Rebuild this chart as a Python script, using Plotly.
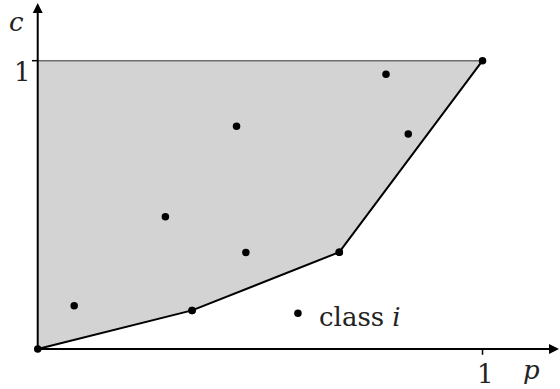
import plotly.graph_objects as go

# points of class i in (p, c)
pts_p = [0.082, 0.347, 0.287, 0.447, 0.468, 0.678, 0.783, 0.833]
pts_c = [0.150, 0.134, 0.459, 0.773, 0.335, 0.336, 0.953, 0.746]

# lower hull from origin to (1, 1)
hull_p = [0.0, 0.347, 0.678, 1.0]
hull_c = [0.0, 0.134, 0.336, 1.0]

legend_p, legend_c = [0.585], [0.124]
legend_text = "class <i>i</i>"

FONT = "DejaVu Serif"
fig = go.Figure()

# shaded region above the hull
fig.add_trace(go.Scatter(
    x=[0.0, 0.0, 1.0] + hull_p[::-1][1:],
    y=[0.0, 1.0, 1.0] + hull_c[::-1][1:],
    mode="lines", fill="toself", fillcolor="#d3d3d3",
    line=dict(width=0), hoverinfo="skip"))

# top edge c = 1
fig.add_trace(go.Scatter(x=[0, 1], y=[1, 1], mode="lines",
                         line=dict(color="#6e6e6e", width=1.5)))

# hull line
fig.add_trace(go.Scatter(x=hull_p, y=hull_c, mode="lines+markers",
                         line=dict(color="black", width=2),
                         marker=dict(color="black", size=7.5)))

fig.add_trace(go.Scatter(x=pts_p, y=pts_c, mode="markers",
                         marker=dict(color="black", size=7.5)))

fig.add_trace(go.Scatter(x=legend_p, y=legend_c, mode="markers",
                         marker=dict(color="black", size=7.5)))

# axes with arrows
fig.add_annotation(x=1.172, y=0, ax=-0.002, ay=0, xref="x", yref="y",
                   axref="x", ayref="y", showarrow=True, arrowhead=2,
                   arrowsize=1, arrowwidth=2, arrowcolor="black", text="")
fig.add_annotation(x=0, y=1.2, ax=0, ay=-0.005, xref="x", yref="y",
                   axref="x", ayref="y", showarrow=True, arrowhead=2,
                   arrowsize=1, arrowwidth=2, arrowcolor="black", text="")

# ticks
fig.add_shape(type="line", x0=1, x1=1, y0=0, y1=-0.02,
              line=dict(color="black", width=1.5))
fig.add_shape(type="line", x0=0, x1=-0.013, y0=1, y1=1,
              line=dict(color="black", width=1.5))

txt = dict(family=FONT, size=26, color="#222")
fig.add_annotation(x=1.007, y=-0.085, text="1", showarrow=False, font=txt)
fig.add_annotation(x=-0.035, y=0.96, text="1", showarrow=False, font=txt)
fig.add_annotation(x=1.111, y=-0.072, text="<i>p</i>", showarrow=False, font=txt)
fig.add_annotation(x=-0.047, y=1.134, text="<i>c</i>", showarrow=False, font=txt)
fig.add_annotation(x=0.628, y=0.11, text=legend_text,
                   showarrow=False, font=txt, xanchor="left")

fig.update_layout(
    width=560, height=389, showlegend=False,
    margin=dict(l=0, r=0, t=0, b=0),
    plot_bgcolor="white", paper_bgcolor="white",
    xaxis=dict(range=[-0.0848, 1.1742], visible=False),
    yaxis=dict(range=[-0.1387, 1.2105], visible=False),
)

# drop the default page margin so the figure fills the window
fig.write_html("out.html", config={"displayModeBar": False},
               post_script="document.body.style.margin = '0';")
